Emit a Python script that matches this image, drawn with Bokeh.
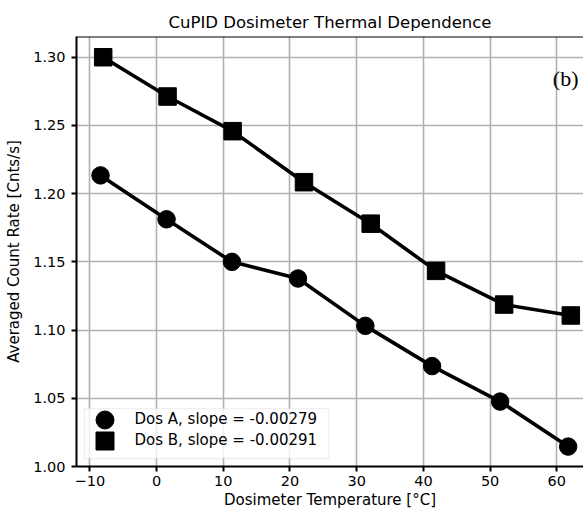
from bokeh.plotting import figure
from bokeh.models import (Range1d, Legend, LegendItem, Span, BoxAnnotation, Label,
                          NumeralTickFormatter)
from bokeh.embed import file_html
from bokeh.resources import INLINE

# ---------------- data ----------------
title_text = "CuPID Dosimeter Thermal Dependence"
x_label = "Dosimeter Temperature [°C]"
y_label = "Averaged Count Rate [Cnts/s]"
panel_tag = "(b)"

dos_a_temp = [-8.4, 1.5, 11.3, 21.2, 31.3, 41.3, 51.5, 61.7]
dos_a_rate = [1.2134, 1.1812, 1.1500, 1.1378, 1.1031, 1.0736, 1.0476, 1.0146]
dos_b_temp = [-8.0, 1.65, 11.4, 22.1, 32.1, 41.9, 52.1, 62.1]
dos_b_rate = [1.3000, 1.2712, 1.2458, 1.2084, 1.1780, 1.1434, 1.1187, 1.1107]
label_a = "Dos A, slope = -0.00279"
label_b = "Dos B, slope = -0.00291"

x_ticks = [-10, 0, 10, 20, 30, 40, 50, 60]
y_ticks = [1.00, 1.05, 1.10, 1.15, 1.20, 1.25, 1.30]

# ---------------- layout ----------------
W, H = 583, 512
BL, BR, BT, BB = 76, 0, 36, 46
x0, x1 = -12.0, 64.0
y0, y1 = 1.0, 1.3152
FONT = "DejaVu Sans"

p = figure(width=W, height=H, x_range=Range1d(x0, x1), y_range=Range1d(y0, y1),
           output_backend="svg", toolbar_location=None, title=title_text,
           min_border_left=BL, min_border_right=BR, min_border_top=BT,
           min_border_bottom=BB)
p.outline_line_color = None
p.background_fill_color = "white"
p.border_fill_color = "white"

p.title.align = "center"
p.title.text_font = FONT
p.title.text_font_size = "16.5px"
p.title.text_font_style = "normal"
p.title.text_color = "black"

p.xaxis.ticker = x_ticks
p.yaxis.ticker = y_ticks
p.xaxis.major_label_overrides = {t: str(t).replace("-", "\u2212") for t in x_ticks if t < 0}
p.yaxis.formatter = NumeralTickFormatter(format="0.00")
p.xaxis.axis_label = x_label
p.yaxis.axis_label = y_label

for ax in (p.xaxis[0], p.yaxis[0]):
    ax.axis_line_width = 2
    ax.axis_line_color = "black"
    ax.major_tick_in = 0
    ax.major_tick_out = 5
    ax.major_tick_line_width = 2
    ax.major_tick_line_color = "black"
    ax.minor_tick_line_color = None
    ax.major_label_text_font = FONT
    ax.major_label_text_font_size = "14.5px"
    ax.major_label_text_color = "black"
    ax.axis_label_text_font = FONT
    ax.axis_label_text_font_size = "15px"
    ax.axis_label_text_font_style = "normal"
    ax.axis_label_text_color = "black"
p.xaxis.major_label_standoff = 4
p.xaxis.axis_label_standoff = 2
p.yaxis.major_label_standoff = 6
p.yaxis.axis_label_standoff = 7

p.grid.grid_line_color = "#b0b0b0"
p.grid.grid_line_width = 1.6

# top spine
p.add_layout(Span(location=y1, dimension="width", line_color="black", line_width=2))

# ---------------- series ----------------
p.line(dos_a_temp, dos_a_rate, line_width=3.6, line_color="black")
p.line(dos_b_temp, dos_b_rate, line_width=3.6, line_color="black")
ra = p.scatter(dos_a_temp, dos_a_rate, marker="circle", size=17.5, color="black")
rb = p.scatter(dos_b_temp, dos_b_rate, marker="square", size=17.5, color="black")

# ---------------- legend ----------------
sx = (W - BL - BR) / (x1 - x0)
sy = (H - BT - BB) / (y1 - y0)


def xd(px):
    return x0 + (px - BL) / sx


def yd(py):
    return y0 + (H - BB - py) / sy


p.add_layout(BoxAnnotation(left=xd(84), right=xd(328), top=yd(408), bottom=yd(458),
                           fill_color="white", fill_alpha=0.8, line_color="#cccccc",
                           line_width=1.5))

for item_label, rend, vy in ((label_a, ra, 24.5), (label_b, rb, 3.5)):
    lg = Legend(items=[LegendItem(label=item_label, renderers=[rend])],
                location=(5.5, vy), glyph_width=45, glyph_height=45, padding=0,
                label_standoff=8, label_text_font=FONT, label_text_font_size="15px",
                label_text_color="black", border_line_color=None,
                background_fill_alpha=0, margin=0)
    p.add_layout(lg)

p.add_layout(Label(x=59.4, y=1.2844, text=panel_tag, text_font="Liberation Serif",
                   text_font_size="22px", text_baseline="alphabetic", text_color="black"))

open("out.html", "w").write(file_html(p, INLINE))
